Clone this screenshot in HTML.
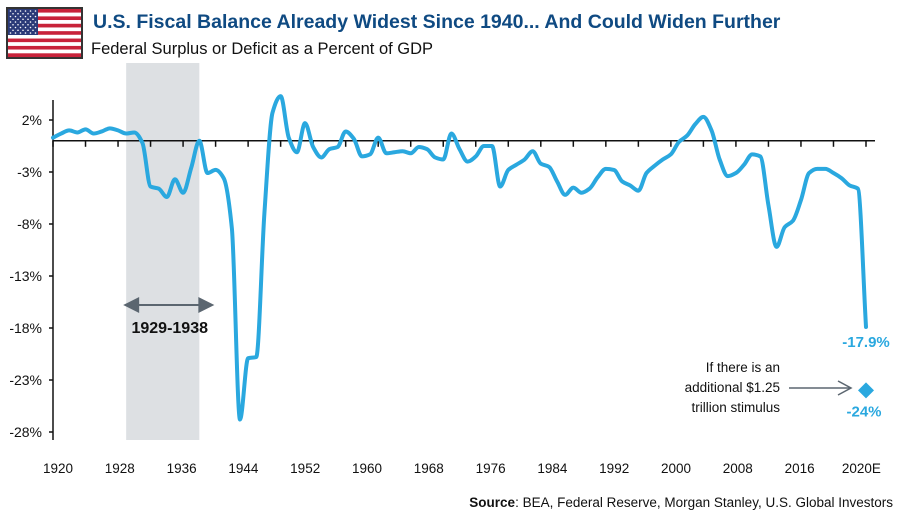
<!DOCTYPE html>
<html><head><meta charset="utf-8">
<style>
body{margin:0;background:#fff;}
svg{display:block;font-family:"Liberation Sans",sans-serif;}
</style></head>
<body>
<svg id="chart" width="900" height="516" viewBox="0 0 900 516">
  <g>
    <rect x="6" y="7" width="77" height="52" fill="#333"/>
    <rect x="8" y="9" width="73" height="48" fill="#fff"/>
    <g id="stripes"></g>
    <rect x="8" y="9" width="30" height="26" fill="#2b3a78"/>
    <g id="stars"></g>
  </g>
  <text x="93" y="28" font-size="19.5" font-weight="bold" fill="#0f4a82">U.S. Fiscal Balance Already Widest Since 1940... And Could Widen Further</text>
  <text x="91" y="54" font-size="16.5" fill="#111">Federal Surplus or Deficit as a Percent of GDP</text>
  <rect id="shade" y="63" height="377" fill="#dde0e3"/>
  <g id="yaxis"></g>
  <g id="xaxis"></g>
  <g>
    <line id="arrowLine" y1="305" y2="305" stroke="#5b6670" stroke-width="2"/>
    <polygon id="arrowL" fill="#5b6670"/>
    <polygon id="arrowR" fill="#5b6670"/>
    <text id="periodLabel" y="333" font-size="16" font-weight="bold" text-anchor="middle" fill="#111">1929-1938</text>
  </g>
  <path id="line" fill="none" stroke="#2aa8df" stroke-width="4" stroke-linejoin="round" stroke-linecap="round"/>
  <text id="lastLabel" font-size="15" font-weight="bold" fill="#2aa8df" text-anchor="middle">-17.9%</text>
  <g>
    <text x="780" y="372" font-size="13.5" text-anchor="end" fill="#111">If there is an</text>
    <text x="780" y="392" font-size="13.5" text-anchor="end" fill="#111">additional $1.25</text>
    <text x="780" y="412" font-size="13.5" text-anchor="end" fill="#111">trillion stimulus</text>
    <line x1="789" y1="388" x2="850" y2="388" stroke="#5b6670" stroke-width="1.5"/>
    <polyline points="838,381 851,388 838,395" fill="none" stroke="#5b6670" stroke-width="1.5"/>
  </g>
  <polygon id="diamond" fill="#2aa8df"/>
  <text id="diamondLabel" font-size="15" font-weight="bold" fill="#2aa8df" text-anchor="middle">-24%</text>
  <text x="893" y="507" font-size="13.5" text-anchor="end" fill="#111"><tspan font-weight="bold">Source</tspan>: BEA, Federal Reserve, Morgan Stanley, U.S. Global Investors</text>
</svg>
<script>
const years = [];
for (let y = 1920; y <= 2020; y++) years.push(y);
const values = [0.3,0.7,1.0,0.8,1.1,0.7,0.9,1.2,1.0,0.7,0.8,-0.2,-4.4,-4.6,-5.4,-3.7,-5.0,-2.6,0.0,-3.1,-2.8,-3.6,-8.4,-26.8,-20.9,-20.8,-7.0,2.7,4.3,0.3,-1.1,1.7,-0.6,-1.6,-0.8,-0.6,0.9,0.2,-1.5,-1.3,0.3,-1.2,-1.1,-1.0,-1.2,-0.6,-0.8,-1.6,-1.8,0.7,-0.8,-2.0,-1.5,-0.5,-0.5,-4.4,-2.8,-2.3,-1.8,-1.0,-2.2,-2.5,-3.9,-5.2,-4.5,-5.0,-4.6,-3.5,-2.7,-2.8,-3.9,-4.3,-4.8,-3.1,-2.4,-1.8,-1.3,-0.1,0.5,1.6,2.3,1.0,-1.8,-3.4,-3.1,-2.3,-1.3,-1.5,-6.2,-10.2,-8.3,-7.7,-5.7,-3.1,-2.7,-2.7,-3.1,-3.6,-4.3,-4.6,-17.9];
const yTicks = [2,-3,-8,-13,-18,-23,-28];
const xTickLabels = ["1920","1928","1936","1944","1952","1960","1968","1976","1984","1992","2000","2008","2016","2020E"];
const shadedPeriod = [1929, 1938];
const projectionYear = 2020;
const projectionValue = -24;

const NS = "http://www.w3.org/2000/svg";
const x = yr => 53 + (yr - 1920) * 8.13;
const y = v => 140.8 - v * 10.4;
const labelX = i => 58 + i * 61.8;
function el(tag, attrs, parent) {
  const e = document.createElementNS(NS, tag);
  for (const k in attrs) e.setAttribute(k, attrs[k]);
  parent.appendChild(e);
  return e;
}
const stripes = document.getElementById('stripes');
for (let i = 0; i < 13; i++) {
  const s = el('rect', {x: 8, y: 9 + i * 48 / 13, width: 73, height: 48 / 13 + 0.05, fill: i % 2 ? '#fff' : '#c8233a'}, stripes);
  
  
}
const stars = document.getElementById('stars');
for (let r = 0; r < 9; r++) for (let c = 0; c < (r % 2 ? 5 : 6); c++) {
  const s = el('circle', {cx: 10.5 + c * 5 + (r % 2 ? 2.5 : 0), cy: 11 + r * 2.75, r: 0.8, fill: '#fff'}, stars);
  
  
}
const sh = document.getElementById('shade');
sh.setAttribute('x', x(shadedPeriod[0]));
sh.setAttribute('width', x(shadedPeriod[1]) - x(shadedPeriod[0]));
const ax1 = x(shadedPeriod[0]) - 3, ax2 = x(shadedPeriod[1]) + 15;
const al = document.getElementById('arrowLine');
al.setAttribute('x1', ax1 + 10); al.setAttribute('x2', ax2 - 10);
document.getElementById('arrowL').setAttribute('points', `${ax1},305 ${ax1+16},297 ${ax1+16},313`);
document.getElementById('arrowR').setAttribute('points', `${ax2},305 ${ax2-16},297 ${ax2-16},313`);
document.getElementById('periodLabel').setAttribute('x', (ax1 + ax2) / 2 + 1);
const ya = document.getElementById('yaxis');
el('line', {x1: 53, y1: 100, x2: 53, y2: 440, stroke: '#111', 'stroke-width': 1.5}, ya);
yTicks.forEach(t => {
  el('line', {x1: 49, y1: y(t), x2: 53, y2: y(t), stroke: '#111', 'stroke-width': 1.5}, ya);
  const tx = el('text', {x: 42, y: y(t) + 5, 'font-size': 14, 'text-anchor': 'end', fill: '#111'}, ya);
  tx.textContent = t + '%';
  
  
});
const xa = document.getElementById('xaxis');
el('line', {x1: 53, y1: y(0), x2: 875, y2: y(0), stroke: '#111', 'stroke-width': 1.5}, xa);
for (let yr = 1920; yr <= 2020; yr += 4) {
  el('line', {x1: x(yr), y1: y(0), x2: x(yr), y2: y(0) + 6, stroke: '#111', 'stroke-width': 1.5}, xa);
}
xTickLabels.forEach((l, i) => {
  const tx = el('text', {x: labelX(i), y: 473, 'font-size': 13.5, 'text-anchor': 'middle', fill: '#111'}, xa);
  tx.textContent = l;
  
  
});
// monotone cubic interpolation
const pts = years.map((yr, i) => [x(yr), y(values[i])]);
const n = pts.length;
const sl = [];
for (let i = 0; i < n - 1; i++) sl.push((pts[i+1][1] - pts[i][1]) / (pts[i+1][0] - pts[i][0]));
const m = new Array(n);
m[0] = sl[0]; m[n-1] = sl[n-2];
for (let i = 1; i < n - 1; i++) {
  if (sl[i-1] * sl[i] <= 0) m[i] = 0;
  else m[i] = 2 / (1 / sl[i-1] + 1 / sl[i]);
}
let d = `M${pts[0][0]},${pts[0][1]}`;
for (let i = 0; i < n - 1; i++) {
  const h = (pts[i+1][0] - pts[i][0]) / 3;
  d += ` C${pts[i][0] + h},${pts[i][1] + m[i] * h} ${pts[i+1][0] - h},${pts[i+1][1] - m[i+1] * h} ${pts[i+1][0]},${pts[i+1][1]}`;
}
document.getElementById('line').setAttribute('d', d);
const last = pts[n - 1];
const ll = document.getElementById('lastLabel');
ll.setAttribute('x', last[0]); ll.setAttribute('y', last[1] + 20);
const dx = x(projectionYear), dy = y(projectionValue);
document.getElementById('diamond').setAttribute('points', `${dx},${dy-8} ${dx+8},${dy} ${dx},${dy+8} ${dx-8},${dy}`);
const dl = document.getElementById('diamondLabel');
dl.setAttribute('x', dx - 2); dl.setAttribute('y', dy + 26);
</script>
</body></html>
